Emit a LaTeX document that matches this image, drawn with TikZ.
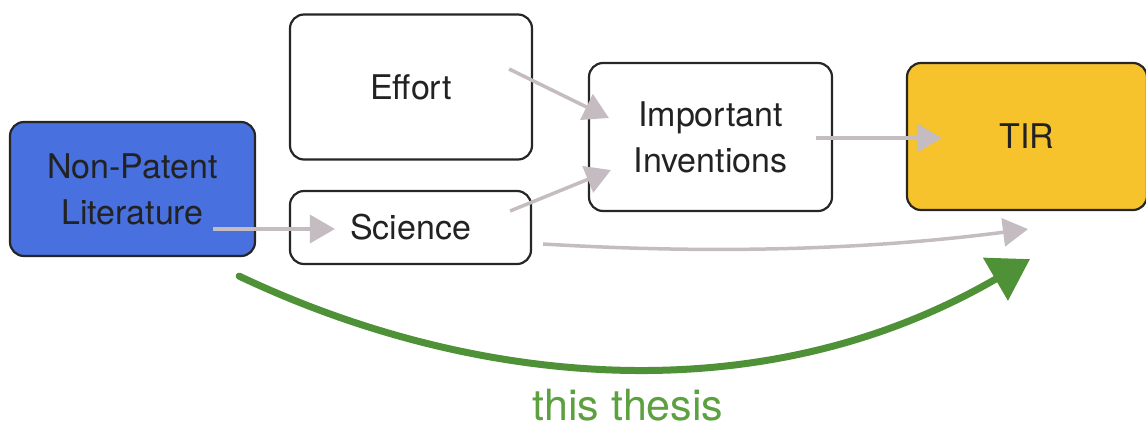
\documentclass[tikz,border=0pt]{standalone}
\usepackage{fontspec}
\setmainfont{TeX Gyre Heros}
\usetikzlibrary{arrows.meta,calc}
\definecolor{boxline}{HTML}{262626}
\definecolor{textdark}{HTML}{222222}
\definecolor{nplblue}{HTML}{4870DE}
\definecolor{tiryellow}{HTML}{F6C32C}
\definecolor{flowgray}{HTML}{C4BCC0}
\definecolor{thesisgreen}{HTML}{4E9137}
\definecolor{labelgreen}{HTML}{5DA040}
\begin{document}
\begin{tikzpicture}[x=1pt,y=-1pt,
  box/.style={draw=boxline, line width=2.2pt, rounded corners=14pt,
    inner sep=0pt, align=center, text=textdark,
    font=\fontsize{34}{46}\selectfont},
  flow/.style={draw=flowgray, line width=3.5pt,
    -{Triangle[length=25pt,width=28pt]}},
  thesis/.style={draw=thesisgreen, line width=7pt, line cap=round,
    -{Triangle[length=40pt,width=48pt]}}]
\useasboundingbox (0,0) rectangle (1146,432);

% boxes
\node[box, fill=nplblue, minimum width=245pt, minimum height=134pt]
  (npl) at (132.5,189) {Non-Patent\\Literature};
\node[box, fill=white, minimum width=242pt, minimum height=145pt]
  (effort) at (411,87) {Effort};
\node[box, fill=white, minimum width=241pt, minimum height=73pt]
  (sci) at (410.5,227.5) {Science};
\node[box, fill=white, minimum width=243pt, minimum height=148pt]
  (inv) at (710.5,137) {Important\\Inventions};
\node[box, fill=tiryellow, minimum width=240pt, minimum height=147pt]
  (tir) at (1027,136.5) {TIR};

% grey flow arrows
\draw[flow] ($(npl.east)+(-43,40)$) -- ($(sci.west)+(46,1.5)$);
\draw[flow] ($(effort.east)+(-24,-18)$) -- ($(inv.west)+(21,-19)$);
\draw[flow] ($(sci.east)+(-22,-16.5)$) -- ($(inv.west)+(23,33)$);
\draw[flow] ($(inv.east)+(-17,1)$) -- ($(tir.west)+(36,1.5)$);
\draw[flow] ($(sci.east)+(11,16.5)$)
  .. controls ($(sci.east)+(170,26)$) and ($(tir.south)+(-170,40)$)
  .. ($(tir.south)+(1,18)$);

% green arc and its label
\coordinate (arcstart) at ($(npl.south east)+(-17,19)$);
\node[text=labelgreen, font=\fontsize{43}{43}\selectfont, anchor=base,
  inner sep=0pt] (label) at (628,420) {this thesis};
\draw[thesis] (arcstart)
  .. controls ($(arcstart)+(232,110)$) and ($(tir.south)+(-267,205)$)
  .. ($(tir.south)+(3,48)$);
\end{tikzpicture}
\end{document}
